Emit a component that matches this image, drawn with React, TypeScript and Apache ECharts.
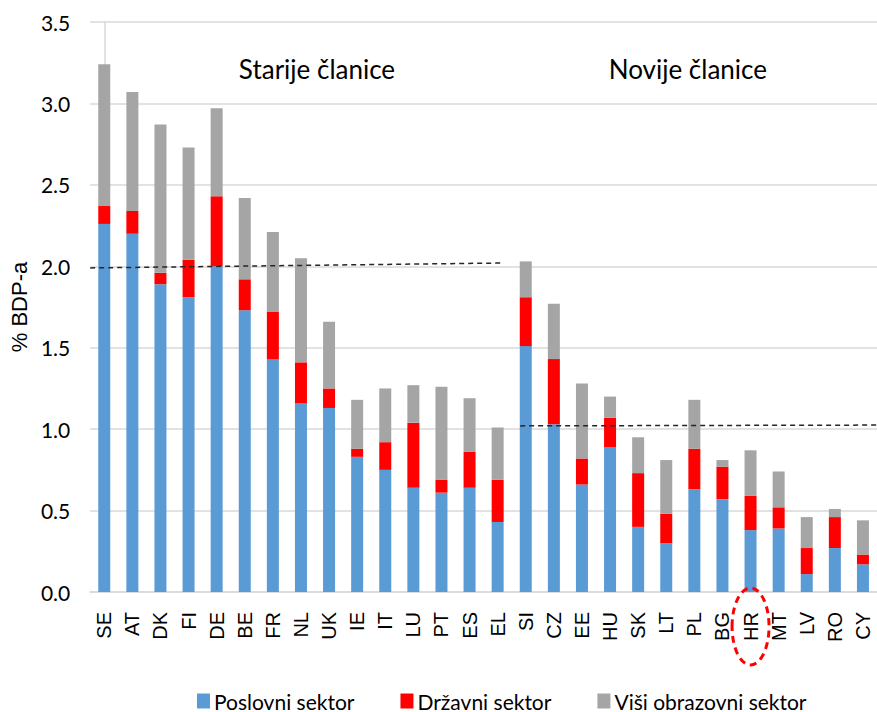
import React, { useEffect, useRef } from "react";
import * as echarts from "echarts";

const categories = ["SE","AT","DK","FI","DE","BE","FR","NL","UK","IE","IT","LU","PT","ES","EL","SI","CZ","EE","HU","SK","LT","PL","BG","HR","MT","LV","RO","CY"];
const poslovni = [2.26,2.20,1.89,1.81,2.00,1.73,1.43,1.16,1.13,0.83,0.75,0.64,0.61,0.64,0.43,1.51,1.03,0.66,0.89,0.40,0.30,0.63,0.57,0.38,0.39,0.11,0.27,0.17];
const drzavni = [0.11,0.14,0.07,0.23,0.43,0.19,0.29,0.25,0.12,0.05,0.17,0.40,0.08,0.22,0.26,0.30,0.40,0.16,0.18,0.33,0.18,0.25,0.20,0.21,0.13,0.16,0.19,0.06];
const visi = [0.87,0.73,0.91,0.69,0.54,0.50,0.49,0.64,0.41,0.30,0.33,0.23,0.57,0.33,0.32,0.22,0.34,0.46,0.13,0.22,0.33,0.30,0.04,0.28,0.22,0.19,0.05,0.21];
const seriesNames = ["Poslovni sektor", "Državni sektor", "Viši obrazovni sektor"];
const yTicks = [0, 0.5, 1.0, 1.5, 2.0, 2.5, 3.0, 3.5];
// reference dashed lines: [category index position, value]
const refOld = [[-0.5, 1.99], [14.15, 2.02]];
const refNew = [[14.8, 1.02], [27.5, 1.025]];
const groupLabels = ["Starije članice", "Novije članice"];
const highlighted = "HR";

const NARROW = "Lato, 'Open Sans', sans-serif";
const SANS = "'Liberation Sans', Arial, sans-serif";

export default function App() {
  const ref = useRef<HTMLDivElement>(null);
  useEffect(() => {
    if (!ref.current) return;
    const chart = echarts.init(ref.current, null, { renderer: "svg" });
    const option: any = {
      animation: false,
      backgroundColor: "#fff",
      grid: { left: 87, right: -5, top: 22, bottom: 120, containLabel: false },
      legend: {
        top: 684,
        left: 192,
        itemWidth: 13,
        itemHeight: 15,
        itemGap: 46,
        icon: "rect",
        data: seriesNames,
        textStyle: { fontFamily: NARROW, fontSize: 21, lineHeight: 24, color: "#000", padding: [0, 0, 0, -1] },
      },
      xAxis: [
        {
          type: "category",
          data: categories,
          axisLine: { show: true, lineStyle: { color: "#D9D9D9", width: 1.5 } },
          axisTick: { show: false },
          axisLabel: { rotate: 90, margin: 20, fontFamily: SANS, fontSize: 20, color: "#000", interval: 0 },
        },
        { type: "value", min: -0.5, max: 27.5, show: false },
      ],
      yAxis: {
        type: "value",
        min: 0,
        max: 3.5,
        interval: 0.5,
        name: "% BDP-a",
        nameLocation: "middle",
        nameGap: 50,
        nameTextStyle: { fontFamily: SANS, fontSize: 22, color: "#000" },
        axisLine: { show: true, lineStyle: { color: "#D9D9D9", width: 1.5 } },
        axisTick: { show: false },
        splitLine: { lineStyle: { color: "#D9D9D9", width: 1.5 } },
        axisLabel: {
          margin: 20,
          fontFamily: NARROW,
          fontSize: 21,
          color: "#000",
          formatter: (v: number) => (yTicks.includes(v) ? v.toFixed(1) : ""),
        },
      },
      series: [
        { name: seriesNames[0], type: "bar", stack: "t", barWidth: 12, data: poslovni, itemStyle: { color: "#5B9BD5" } },
        { name: seriesNames[1], type: "bar", stack: "t", barWidth: 12, data: drzavni, itemStyle: { color: "#FF0000" } },
        { name: seriesNames[2], type: "bar", stack: "t", barWidth: 12, data: visi, itemStyle: { color: "#A5A5A5" } },
        {
          type: "line", xAxisIndex: 1, data: refOld, symbol: "none", silent: true,
          lineStyle: { color: "#262626", type: [5, 4], width: 1.5 },
        },
        {
          type: "line", xAxisIndex: 1, data: refNew, symbol: "none", silent: true,
          lineStyle: { color: "#262626", type: [5, 4], width: 1.5 },
        },
      ],
    };
    chart.setOption(option);
    const px = (c: string) => chart.convertToPixel({ xAxisIndex: 0 }, c) as number;
    const yTop = chart.convertToPixel({ yAxisIndex: 0 }, 3.23) as number;
    const y0 = chart.convertToPixel({ yAxisIndex: 0 }, 0) as number;
    const xOld = px("NL") * 0.43 + px("UK") * 0.57;
    const xNew = px("LT") * 0.23 + px("PL") * 0.77;
    chart.setOption({
      graphic: [
        {
          type: "text", x: xOld, y: yTop + 3,
          style: { text: groupLabels[0], fontFamily: NARROW, fontSize: 26, fill: "#000", align: "center", verticalAlign: "middle" },
        },
        {
          type: "text", x: xNew, y: yTop + 3,
          style: { text: groupLabels[1], fontFamily: NARROW, fontSize: 26, fill: "#000", align: "center", verticalAlign: "middle" },
        },
        {
          type: "ellipse",
          shape: { cx: px(highlighted), cy: y0 + 34.5, rx: 18.5, ry: 38.5 },
          style: { fill: "none", stroke: "#FF0000", lineWidth: 3, lineDash: [7, 5] },
          z: 100,
        },
      ],
    });
    return () => chart.dispose();
  }, []);
  return <div ref={ref} style={{ position: "absolute", left: 0, top: 0, width: 877, height: 712 }} />;
}
